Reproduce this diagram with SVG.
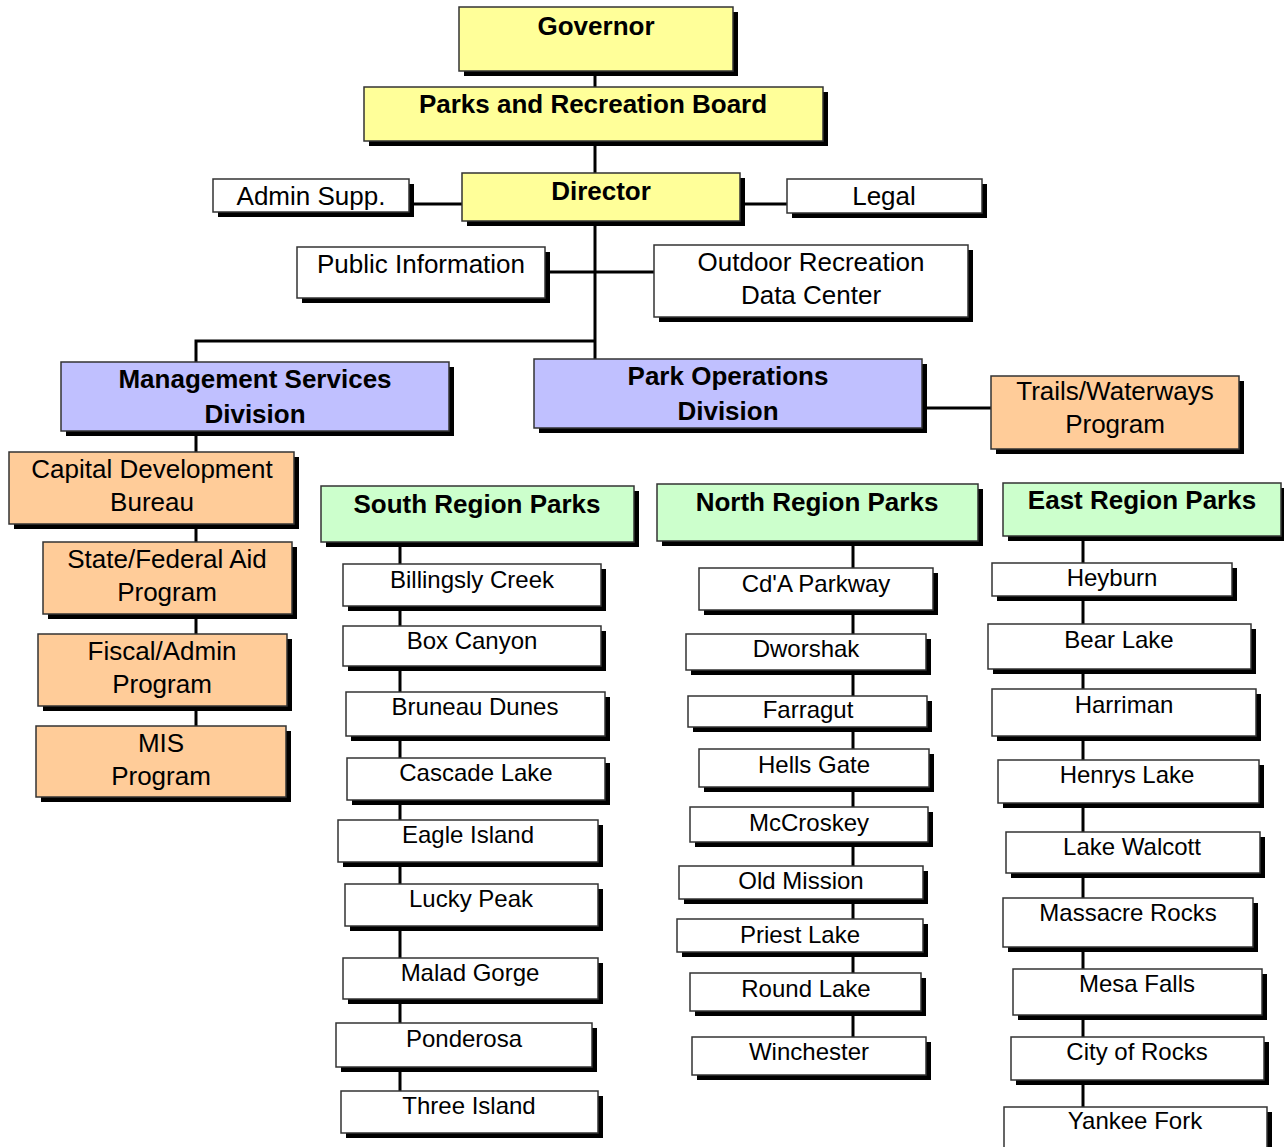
<svg xmlns="http://www.w3.org/2000/svg" width="1284" height="1147" viewBox="0 0 1284 1147">
<style>
  .sh { fill: #000; }
  .bx { stroke: #333; stroke-width: 1.5; }
  .yel { fill: #FFFF99; }
  .blu { fill: #C0C0FF; }
  .org { fill: #FFCC99; }
  .grn { fill: #CCFFCC; }
  .wht { fill: #FFFFFF; }
  text { font-family: "Liberation Sans", Arial, sans-serif; fill: #000; text-anchor: middle; }
  .hb { font-weight: bold; font-size: 26px; }
  .t1 { font-size: 26px; }
  .t2 { font-size: 24px; }
  .cn { stroke: #000; stroke-width: 3; fill: none; }
</style>
<rect width="1284" height="1147" fill="#fff"/>

<!-- connectors -->
<g id="connectors" class="cn">
  <line x1="595" y1="71" x2="595" y2="88"/>
  <line x1="595" y1="141" x2="595" y2="173"/>
  <line x1="595" y1="221" x2="595" y2="359"/>
  <line x1="409" y1="204" x2="462" y2="204"/>
  <line x1="740" y1="204" x2="787" y2="204"/>
  <line x1="545" y1="272" x2="654" y2="272"/>
  <polyline points="595,341 196,341 196,362"/>
  <line x1="922" y1="408" x2="991" y2="408"/>
  <line x1="196" y1="431" x2="196" y2="726"/>
  <line x1="400" y1="542" x2="400" y2="1091"/>
  <line x1="853" y1="541" x2="853" y2="1037"/>
  <line x1="1083" y1="536" x2="1083" y2="1107"/>
</g>

<!-- top level -->
<g id="governor"><rect class="sh" x="464" y="12" width="274" height="64"/><rect class="bx yel" x="459" y="7" width="274" height="64"/><text class="hb" x="596" y="35">Governor</text></g>
<g id="board"><rect class="sh" x="369" y="92" width="459" height="54"/><rect class="bx yel" x="364" y="87" width="459" height="54"/><text class="hb" x="593" y="113">Parks and Recreation Board</text></g>
<g id="director"><rect class="sh" x="467" y="178" width="278" height="48"/><rect class="bx yel" x="462" y="173" width="278" height="48"/><text class="hb" x="601" y="200">Director</text></g>
<g id="admin-supp"><rect class="sh" x="218" y="184" width="196" height="33"/><rect class="bx wht" x="213" y="179" width="196" height="33"/><text class="t1" x="311" y="205">Admin Supp.</text></g>
<g id="legal"><rect class="sh" x="792" y="184" width="195" height="34"/><rect class="bx wht" x="787" y="179" width="195" height="34"/><text class="t1" x="884" y="205">Legal</text></g>
<g id="public-info"><rect class="sh" x="302" y="252" width="248" height="51"/><rect class="bx wht" x="297" y="247" width="248" height="51"/><text class="t1" x="421" y="273">Public Information</text></g>
<g id="outdoor-rec"><rect class="sh" x="659" y="250" width="314" height="72"/><rect class="bx wht" x="654" y="245" width="314" height="72"/><text class="t1" x="811" y="271">Outdoor Recreation</text><text class="t1" x="811" y="304">Data Center</text></g>

<!-- divisions -->
<g id="mgmt-services"><rect class="sh" x="66" y="367" width="388" height="69"/><rect class="bx blu" x="61" y="362" width="388" height="69"/><text class="hb" x="255" y="388">Management Services</text><text class="hb" x="255" y="423">Division</text></g>
<g id="park-ops"><rect class="sh" x="539" y="364" width="388" height="69"/><rect class="bx blu" x="534" y="359" width="388" height="69"/><text class="hb" x="728" y="385">Park Operations</text><text class="hb" x="728" y="420">Division</text></g>
<g id="trails"><rect class="sh" x="996" y="381" width="248" height="73"/><rect class="bx org" x="991" y="376" width="248" height="73"/><text class="t1" x="1115" y="400">Trails/Waterways</text><text class="t1" x="1115" y="433">Program</text></g>

<!-- management services units -->
<g id="capital-dev"><rect class="sh" x="14" y="457" width="285" height="72"/><rect class="bx org" x="9" y="452" width="285" height="72"/><text class="t1" x="152" y="478">Capital Development</text><text class="t1" x="152" y="511">Bureau</text></g>
<g id="state-federal"><rect class="sh" x="48" y="547" width="249" height="72"/><rect class="bx org" x="43" y="542" width="249" height="72"/><text class="t1" x="167" y="568">State/Federal Aid</text><text class="t1" x="167" y="601">Program</text></g>
<g id="fiscal-admin"><rect class="sh" x="43" y="639" width="249" height="72"/><rect class="bx org" x="38" y="634" width="249" height="72"/><text class="t1" x="162" y="660">Fiscal/Admin</text><text class="t1" x="162" y="693">Program</text></g>
<g id="mis"><rect class="sh" x="41" y="731" width="250" height="71"/><rect class="bx org" x="36" y="726" width="250" height="71"/><text class="t1" x="161" y="752">MIS</text><text class="t1" x="161" y="785">Program</text></g>

<!-- region headers -->
<g id="south-region"><rect class="sh" x="326" y="491" width="313" height="56"/><rect class="bx grn" x="321" y="486" width="313" height="56"/><text class="hb" x="477" y="513">South Region Parks</text></g>
<g id="north-region"><rect class="sh" x="662" y="489" width="321" height="57"/><rect class="bx grn" x="657" y="484" width="321" height="57"/><text class="hb" x="817" y="511">North Region Parks</text></g>
<g id="east-region"><rect class="sh" x="1008" y="488" width="278" height="53"/><rect class="bx grn" x="1003" y="483" width="278" height="53"/><text class="hb" x="1142" y="509">East Region Parks</text></g>

<!-- south region parks -->
<g id="billingsly-creek"><rect class="sh" x="348" y="569" width="258" height="42"/><rect class="bx wht" x="343" y="564" width="258" height="42"/><text class="t2" x="472" y="588">Billingsly Creek</text></g>
<g id="box-canyon"><rect class="sh" x="348" y="631" width="258" height="40"/><rect class="bx wht" x="343" y="626" width="258" height="40"/><text class="t2" x="472" y="649">Box Canyon</text></g>
<g id="bruneau-dunes"><rect class="sh" x="351" y="697" width="259" height="44"/><rect class="bx wht" x="346" y="692" width="259" height="44"/><text class="t2" x="475" y="715">Bruneau Dunes</text></g>
<g id="cascade-lake"><rect class="sh" x="352" y="763" width="258" height="42"/><rect class="bx wht" x="347" y="758" width="258" height="42"/><text class="t2" x="476" y="781">Cascade Lake</text></g>
<g id="eagle-island"><rect class="sh" x="343" y="825" width="260" height="42"/><rect class="bx wht" x="338" y="820" width="260" height="42"/><text class="t2" x="468" y="843">Eagle Island</text></g>
<g id="lucky-peak"><rect class="sh" x="350" y="889" width="253" height="42"/><rect class="bx wht" x="345" y="884" width="253" height="42"/><text class="t2" x="471" y="907">Lucky Peak</text></g>
<g id="malad-gorge"><rect class="sh" x="348" y="963" width="255" height="41"/><rect class="bx wht" x="343" y="958" width="255" height="41"/><text class="t2" x="470" y="981">Malad Gorge</text></g>
<g id="ponderosa"><rect class="sh" x="341" y="1028" width="256" height="44"/><rect class="bx wht" x="336" y="1023" width="256" height="44"/><text class="t2" x="464" y="1047">Ponderosa</text></g>
<g id="three-island"><rect class="sh" x="346" y="1096" width="257" height="42"/><rect class="bx wht" x="341" y="1091" width="257" height="42"/><text class="t2" x="469" y="1114">Three Island</text></g>

<!-- north region parks -->
<g id="cda-parkway"><rect class="sh" x="704" y="573" width="234" height="42"/><rect class="bx wht" x="699" y="568" width="234" height="42"/><text class="t2" x="816" y="592">Cd'A Parkway</text></g>
<g id="dworshak"><rect class="sh" x="691" y="639" width="240" height="36"/><rect class="bx wht" x="686" y="634" width="240" height="36"/><text class="t2" x="806" y="657">Dworshak</text></g>
<g id="farragut"><rect class="sh" x="693" y="701" width="239" height="31"/><rect class="bx wht" x="688" y="696" width="239" height="31"/><text class="t2" x="808" y="718">Farragut</text></g>
<g id="hells-gate"><rect class="sh" x="704" y="754" width="230" height="38"/><rect class="bx wht" x="699" y="749" width="230" height="38"/><text class="t2" x="814" y="773">Hells Gate</text></g>
<g id="mccroskey"><rect class="sh" x="695" y="812" width="238" height="35"/><rect class="bx wht" x="690" y="807" width="238" height="35"/><text class="t2" x="809" y="831">McCroskey</text></g>
<g id="old-mission"><rect class="sh" x="684" y="871" width="244" height="33"/><rect class="bx wht" x="679" y="866" width="244" height="33"/><text class="t2" x="801" y="889">Old Mission</text></g>
<g id="priest-lake"><rect class="sh" x="682" y="924" width="246" height="33"/><rect class="bx wht" x="677" y="919" width="246" height="33"/><text class="t2" x="800" y="943">Priest Lake</text></g>
<g id="round-lake"><rect class="sh" x="695" y="978" width="231" height="38"/><rect class="bx wht" x="690" y="973" width="231" height="38"/><text class="t2" x="806" y="997">Round Lake</text></g>
<g id="winchester"><rect class="sh" x="697" y="1042" width="234" height="38"/><rect class="bx wht" x="692" y="1037" width="234" height="38"/><text class="t2" x="809" y="1060">Winchester</text></g>

<!-- east region parks -->
<g id="heyburn"><rect class="sh" x="997" y="568" width="240" height="33"/><rect class="bx wht" x="992" y="563" width="240" height="33"/><text class="t2" x="1112" y="586">Heyburn</text></g>
<g id="bear-lake"><rect class="sh" x="993" y="629" width="263" height="45"/><rect class="bx wht" x="988" y="624" width="263" height="45"/><text class="t2" x="1119" y="648">Bear Lake</text></g>
<g id="harriman"><rect class="sh" x="997" y="694" width="264" height="47"/><rect class="bx wht" x="992" y="689" width="264" height="47"/><text class="t2" x="1124" y="713">Harriman</text></g>
<g id="henrys-lake"><rect class="sh" x="1003" y="765" width="261" height="43"/><rect class="bx wht" x="998" y="760" width="261" height="43"/><text class="t2" x="1127" y="783">Henrys Lake</text></g>
<g id="lake-walcott"><rect class="sh" x="1011" y="837" width="254" height="41"/><rect class="bx wht" x="1006" y="832" width="254" height="41"/><text class="t2" x="1132" y="855">Lake Walcott</text></g>
<g id="massacre-rocks"><rect class="sh" x="1008" y="903" width="250" height="49"/><rect class="bx wht" x="1003" y="898" width="250" height="49"/><text class="t2" x="1128" y="921">Massacre Rocks</text></g>
<g id="mesa-falls"><rect class="sh" x="1018" y="974" width="249" height="46"/><rect class="bx wht" x="1013" y="969" width="249" height="46"/><text class="t2" x="1137" y="992">Mesa Falls</text></g>
<g id="city-of-rocks"><rect class="sh" x="1016" y="1042" width="253" height="43"/><rect class="bx wht" x="1011" y="1037" width="253" height="43"/><text class="t2" x="1137" y="1060">City of Rocks</text></g>
<g id="yankee-fork"><rect class="sh" x="1009" y="1112" width="263" height="42"/><rect class="bx wht" x="1004" y="1107" width="263" height="42"/><text class="t2" x="1135" y="1129">Yankee Fork</text></g>
</svg>
